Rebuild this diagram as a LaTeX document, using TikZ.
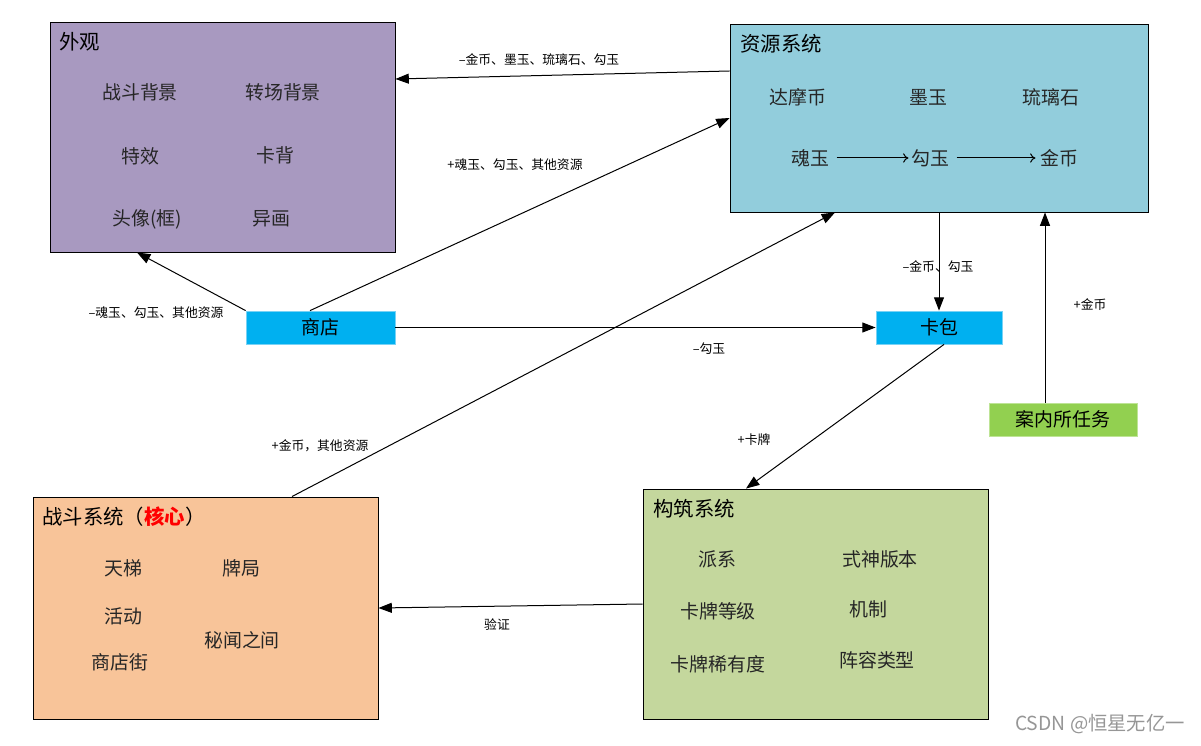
\documentclass[tikz,border=0pt]{standalone}
\usepackage{fontspec}
\setmainfont{Noto Sans CJK SC}
\usetikzlibrary{arrows.meta,calc}
\definecolor{cpurple}{RGB}{168,153,192}
\definecolor{cres}{RGB}{146,205,220}
\definecolor{cshop}{RGB}{0,176,240}
\definecolor{cshopb}{RGB}{120,210,245}
\definecolor{ctask}{RGB}{146,208,80}
\definecolor{ctaskb}{RGB}{190,228,150}
\definecolor{cbat}{RGB}{248,196,153}
\definecolor{cbuild}{RGB}{196,215,157}
\definecolor{cwm}{RGB}{150,150,150}
\tikzset{
  bigbox/.style={draw=black, line width=0.7pt, inner sep=0pt},
  smallbox/.style={line width=0.6pt, inner sep=0pt, font=\fontsize{14.2}{16}\selectfont},
  title/.style={anchor=west, inner sep=0pt, font=\fontsize{15.3}{17}\selectfont},
  item/.style={inner sep=1pt, font=\fontsize{14.2}{16}\selectfont, text=black!85},
  lbl/.style={inner sep=0pt, font=\fontsize{9.6}{11}\selectfont},
  conn/.style={line width=0.75pt, -{Triangle[length=10pt,width=7.5pt]}},
  inner/.style={line width=0.75pt, -{To[length=4pt,width=7pt]}}
}
\begin{document}
\begin{tikzpicture}[x=0.75pt,y=-0.75pt]
\useasboundingbox[fill=white] (0,0) rectangle (1201,745);

% big boxes
\node[bigbox, fill=cpurple, minimum width=345*0.75pt, minimum height=230*0.75pt] (wg) at (222.5,137) {};
\node[bigbox, fill=cres, minimum width=418*0.75pt, minimum height=188*0.75pt] (res) at (939,118) {};
\node[bigbox, fill=cbat, minimum width=345*0.75pt, minimum height=222*0.75pt] (bat) at (205.5,608) {};
\node[bigbox, fill=cbuild, minimum width=345*0.75pt, minimum height=230*0.75pt] (build) at (815.5,604) {};

% small boxes
\node[smallbox, fill=cshop, draw=cshopb, minimum width=149*0.75pt, minimum height=33*0.75pt] (shop) at (320.5,327.5) {商店};
\node[smallbox, fill=cshop, draw=cshopb, minimum width=126*0.75pt, minimum height=33*0.75pt] (kb) at (939,327.5) {卡包};
\node[smallbox, fill=ctask, draw=ctaskb, minimum width=148*0.75pt, minimum height=33*0.75pt] (task) at (1063,419.5) {案内所任务};

% 外观
\node[title] (wgt) at (59,42) {外观};
\node[item] (w1) at (140,92) {战斗背景};
\node[item] (w2) at (283,92) {转场背景};
\node[item] (w3) at (140,156) {特效};
\node[item] (w4) at (275,155) {卡背};
\node[item] (w5) at (147,219) {头像(框)};
\node[item] (w6) at (271,219) {异画};

% 资源系统
\node[title] (rest) at (740,44) {资源系统};
\node[item] (r1) at (798,97) {达摩币};
\node[item] (r2) at (928,97) {墨玉};
\node[item] (r3) at (1051,97) {琉璃石};
\node[item] (hy) at (810,158) {魂玉};
\node[item] (gy) at (930,158) {勾玉};
\node[item] (jb) at (1059,158) {金币};
\draw[inner] ($(hy.east)+(6,0)$) -- ($(gy.west)+(-1,0)$);
\draw[inner] ($(gy.east)+(6,0)$) -- ($(jb.west)+(-3,0)$);

% 战斗系统
\node[title] (batt) at (42,517) {战斗系统（\textcolor{red}{\bfseries 核心}）};
\node[item] (b1) at (123,568) {天梯};
\node[item] (b2) at (241,568) {牌局};
\node[item] (b3) at (123,616) {活动};
\node[item] (b4) at (242,640) {秘闻之间};
\node[item] (b5) at (120,662) {商店街};

% 构筑系统
\node[title] (buildt) at (653,509) {构筑系统};
\node[item] (c1) at (717,559) {派系};
\node[item] (c2) at (880,559) {式神版本};
\node[item] (c3) at (718,611) {卡牌等级};
\node[item] (c4) at (868,609) {机制};
\node[item] (c5) at (718,664) {卡牌稀有度};
\node[item] (c6) at (877,660) {阵容类型};

% connectors
\draw[conn] (res.west |- 0,71) -- (wg.east |- 0,79);
\node[lbl] (l1) at (539,60) {–金币、墨玉、琉璃石、勾玉};

\draw[conn] (shop.north -| 310,0) -- (res.west);
\node[lbl] (l2) at (515,165) {+魂玉、勾玉、其他资源};

\draw[conn] (shop.north west) -- (wg.south -| 137,0);
\node[lbl] (l3) at (156,313) {–魂玉、勾玉、其他资源};

\draw[conn] (shop.east) -- (kb.west);
\node[lbl] (l4) at (709,349) {–勾玉};

\draw[conn] (res.south) -- (kb.north);
\node[lbl] (l5) at (938,267) {–金币、勾玉};

\draw[conn] (task.north -| 1045,0) -- (res.south -| 1045,0);
\node[lbl] (l6) at (1090,305) {+金币};

\draw[conn] (kb.south -| 944,0) -- (build.north -| 746,0);
\node[lbl] (l7) at (754,440) {+卡牌};

\draw[conn] (bat.north -| 292,0) -- (res.south -| 835,0);
\node[lbl] (l8) at (320,446) {+金币，其他资源};

\draw[conn] (build.west) -- (bat.east);
\node[lbl] (l9) at (497,625) {验证};

% watermark
\node[inner sep=0pt, text=cwm, font=\fontsize{14.5}{16}\selectfont] (wm) at (1100,724) {CSDN @恒星无亿一};
\end{tikzpicture}
\end{document}
